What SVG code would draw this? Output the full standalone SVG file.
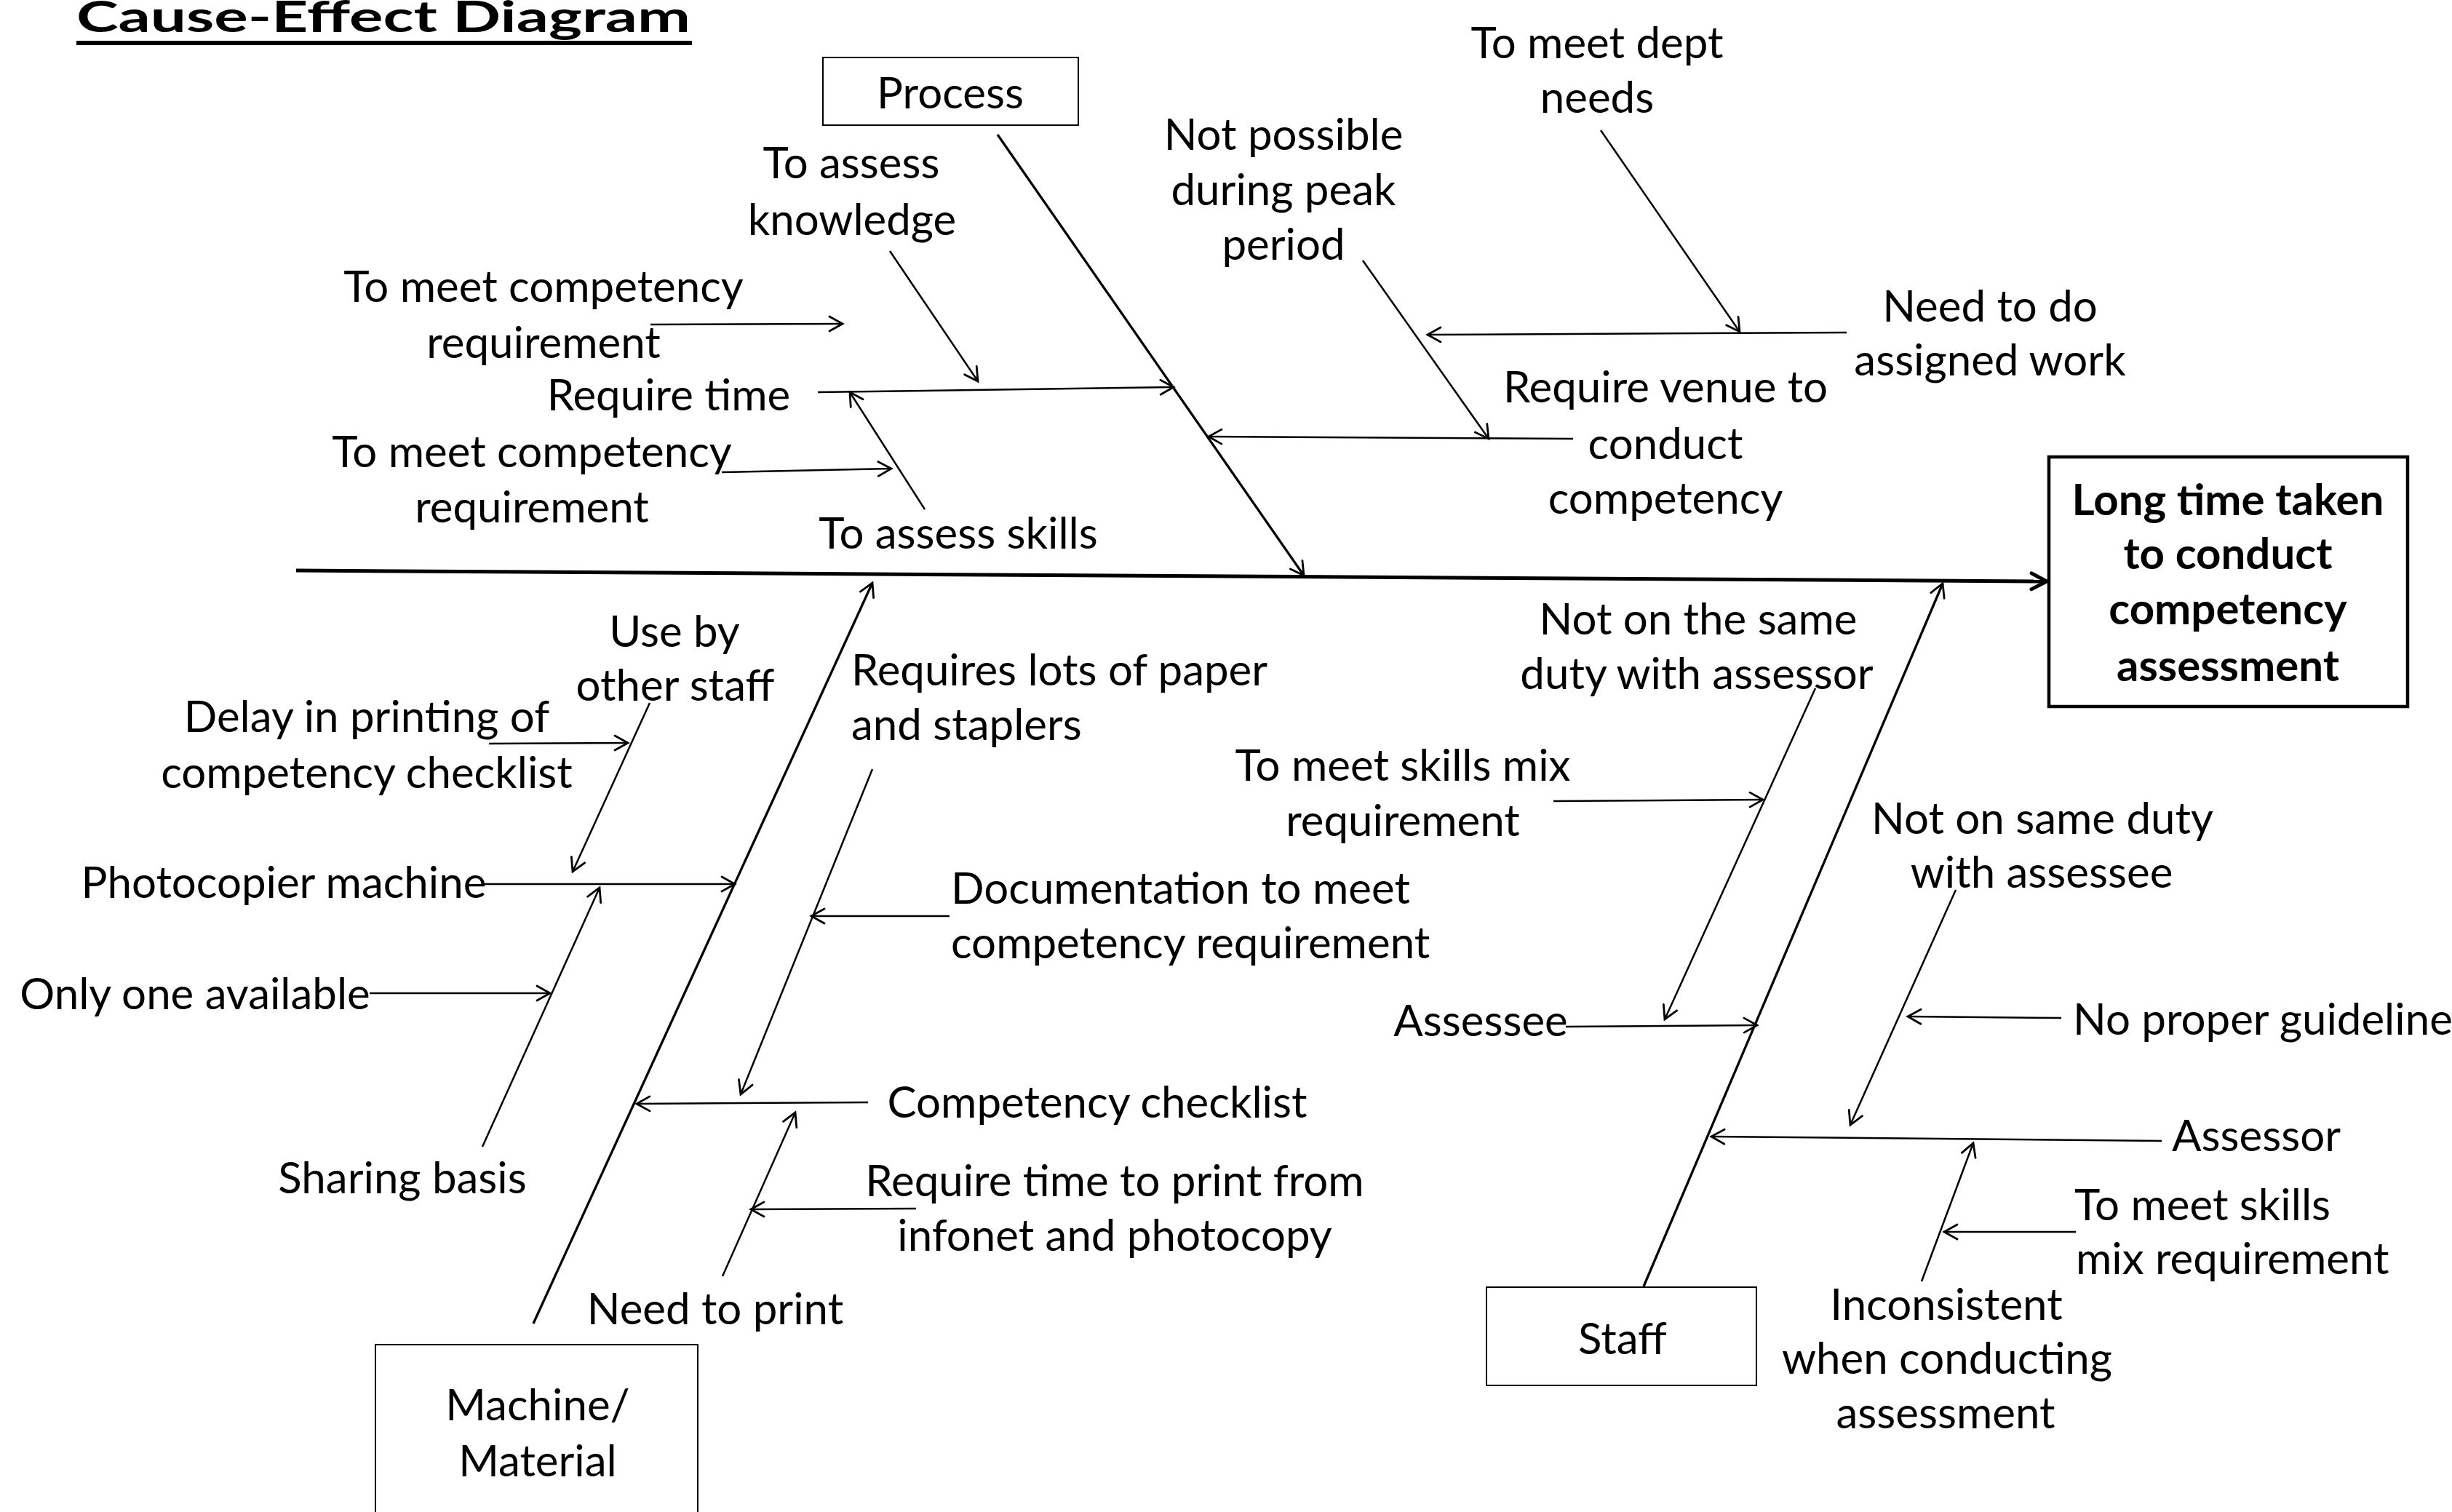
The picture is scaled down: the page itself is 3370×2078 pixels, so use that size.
<svg xmlns="http://www.w3.org/2000/svg" width="3370" height="2078" viewBox="0 0 3370 2078">
<style>
.t{font-family:Lato,'Liberation Sans',sans-serif;font-size:60px;fill:#000}
.b{font-weight:bold}
.m{text-anchor:middle}
.ln{stroke:#000;stroke-width:2.5;fill:none;marker-end:url(#ah)}
.bone{stroke-width:3.3}
.spine{stroke:#000;stroke-width:5;fill:none;marker-end:url(#ahb)}
.box{fill:#fff;stroke:#000;stroke-width:2}
.ebox{fill:#fff;stroke:#000;stroke-width:4.5}
</style>
<defs>
<marker id="ah" markerUnits="userSpaceOnUse" viewBox="0 0 24 24" markerWidth="24" markerHeight="24" refX="21" refY="12" orient="auto" overflow="visible">
<path d="M3,2 L21,12 L3,22" fill="none" stroke="#000" stroke-width="2.8" stroke-linecap="round"/>
</marker>
<marker id="ahb" markerUnits="userSpaceOnUse" viewBox="0 0 28 28" markerWidth="28" markerHeight="28" refX="25" refY="14" orient="auto" overflow="visible">
<path d="M4,3 L25,14 L4,25" fill="none" stroke="#000" stroke-width="5" stroke-linecap="round"/>
</marker>
</defs>
<rect width="3370" height="2078" fill="#fff"/>

<g id="title">
<text class="t b" x="105" y="44" font-size="90" textLength="844" lengthAdjust="spacingAndGlyphs">Cause-Effect Diagram</text>
<rect x="105" y="56" width="846" height="6" fill="#000"/>
</g>

<g id="connectors">
<line class="spine" x1="407" y1="784" x2="2813" y2="799"/>
<line class="ln bone" x1="1371" y1="185" x2="1792" y2="791"/>
<line class="ln bone" x1="733" y1="1819" x2="1199" y2="801"/>
<line class="ln bone" x1="2259" y1="1768" x2="2670" y2="802"/>
<line class="ln" x1="1223" y1="345" x2="1344" y2="524"/>
<line class="ln" x1="894" y1="446" x2="1158" y2="445"/>
<line class="ln" x1="1124" y1="539" x2="1613" y2="532"/>
<line class="ln" x1="1271" y1="700" x2="1168" y2="539"/>
<line class="ln" x1="992" y1="649" x2="1225" y2="644"/>
<line class="ln" x1="2200" y1="179" x2="2391" y2="456"/>
<line class="ln" x1="2538" y1="457" x2="1962" y2="460"/>
<line class="ln" x1="1873" y1="358" x2="2046" y2="603"/>
<line class="ln" x1="2162" y1="603" x2="1661" y2="600"/>
<line class="ln" x1="893" y1="966" x2="787" y2="1198"/>
<line class="ln" x1="672" y1="1022" x2="863" y2="1021"/>
<line class="ln" x1="666" y1="1215" x2="1010" y2="1215"/>
<line class="ln" x1="663" y1="1576" x2="824" y2="1220"/>
<line class="ln" x1="508" y1="1365" x2="756" y2="1365"/>
<line class="ln" x1="1199" y1="1057" x2="1018" y2="1504"/>
<line class="ln" x1="1305" y1="1259" x2="1115" y2="1259"/>
<line class="ln" x1="1193" y1="1515" x2="875" y2="1517"/>
<line class="ln" x1="993" y1="1754" x2="1093" y2="1529"/>
<line class="ln" x1="1259" y1="1661" x2="1032" y2="1662"/>
<line class="ln" x1="2495" y1="946" x2="2288" y2="1401"/>
<line class="ln" x1="2135" y1="1101" x2="2423" y2="1099"/>
<line class="ln" x1="2152" y1="1411" x2="2415" y2="1409"/>
<line class="ln" x1="2688" y1="1223" x2="2543" y2="1546"/>
<line class="ln" x1="2833" y1="1399" x2="2622" y2="1397"/>
<line class="ln" x1="2971" y1="1568" x2="2352" y2="1562"/>
<line class="ln" x1="2641" y1="1761" x2="2712" y2="1571"/>
<line class="ln" x1="2853" y1="1693" x2="2672" y2="1693"/>
</g>

<g id="node-effect">
<rect class="ebox" x="2816" y="628" width="493" height="343"/>
<g transform="translate(0,3)">
<text class="t b m" x="3062" y="705">Long time taken</text>
<text class="t b m" x="3062" y="779">to conduct</text>
<text class="t b m" x="3062" y="855">competency</text>
<text class="t b m" x="3062" y="933">assessment</text>
</g>
</g>

<g id="node-process">
<rect class="box" x="1131" y="79" width="351" height="93"/>
<text class="t m" x="1306" y="149">Process</text>
</g>

<g id="node-machine">
<rect class="box" x="516" y="1848" width="443" height="260"/>
<text class="t m" x="739" y="1952">Machine/</text>
<text class="t m" x="739" y="2029">Material</text>
</g>

<g id="node-staff">
<rect class="box" x="2043" y="1769" width="371" height="135"/>
<text class="t m" x="2230" y="1861">Staff</text>
</g>

<g id="process-causes" transform="translate(0,3)">
<text class="t m" x="1170" y="242">To assess</text>
<text class="t m" x="1171" y="320">knowledge</text>
<text class="t m" x="747" y="412">To meet competency</text>
<text class="t m" x="747" y="489">requirement</text>
<text class="t m" x="919" y="561">Require time</text>
<text class="t m" x="731" y="639">To meet competency</text>
<text class="t m" x="731" y="715">requirement</text>
<text class="t m" x="1317" y="751">To assess skills</text>
<text class="t m" x="1764" y="203">Not possible</text>
<text class="t m" x="1764" y="279">during peak</text>
<text class="t m" x="1764" y="354">period</text>
<text class="t m" x="2195" y="77">To meet dept</text>
<text class="t m" x="2195" y="152">needs</text>
<text class="t m" x="2735" y="439">Need to do</text>
<text class="t m" x="2735" y="513">assigned work</text>
<text class="t m" x="2289" y="550">Require venue to</text>
<text class="t m" x="2289" y="628">conduct</text>
<text class="t m" x="2289" y="703">competency</text>
</g>

<g id="machine-causes" transform="translate(0,3)">
<text class="t m" x="927" y="886">Use by</text>
<text class="t m" x="928" y="960">other staff</text>
<text class="t m" x="504" y="1003">Delay in printing of</text>
<text class="t m" x="504" y="1080">competency checklist</text>
<text class="t m" x="390" y="1231">Photocopier machine</text>
<text class="t m" x="268" y="1384">Only one available</text>
<text class="t m" x="553" y="1637">Sharing basis</text>
<text class="t" x="1170" y="939">Requires lots of paper</text>
<text class="t" x="1170" y="1014">and staplers</text>
<text class="t" x="1307" y="1239">Documentation to meet</text>
<text class="t" x="1307" y="1314">competency requirement</text>
<text class="t m" x="1508" y="1533">Competency checklist</text>
<text class="t m" x="1532" y="1641">Require time to print from</text>
<text class="t m" x="1532" y="1716">infonet and photocopy</text>
<text class="t m" x="983" y="1817">Need to print</text>
</g>

<g id="staff-causes" transform="translate(0,3)">
<text class="t m" x="2334" y="869">Not on the same</text>
<text class="t m" x="2332" y="944">duty with assessor</text>
<text class="t m" x="1928" y="1070">To meet skills mix</text>
<text class="t m" x="1928" y="1146">requirement</text>
<text class="t m" x="2035" y="1421">Assessee</text>
<text class="t m" x="2807" y="1143">Not on same duty</text>
<text class="t m" x="2806" y="1217">with assessee</text>
<text class="t" x="2849" y="1419">No proper guideline</text>
<text class="t m" x="3101" y="1579">Assessor</text>
<text class="t" x="2851" y="1674">To meet skills</text>
<text class="t" x="2853" y="1748">mix requirement</text>
<text class="t m" x="2675" y="1811">Inconsistent</text>
<text class="t m" x="2676" y="1885">when conducting</text>
<text class="t m" x="2674" y="1960">assessment</text>
</g>
</svg>
